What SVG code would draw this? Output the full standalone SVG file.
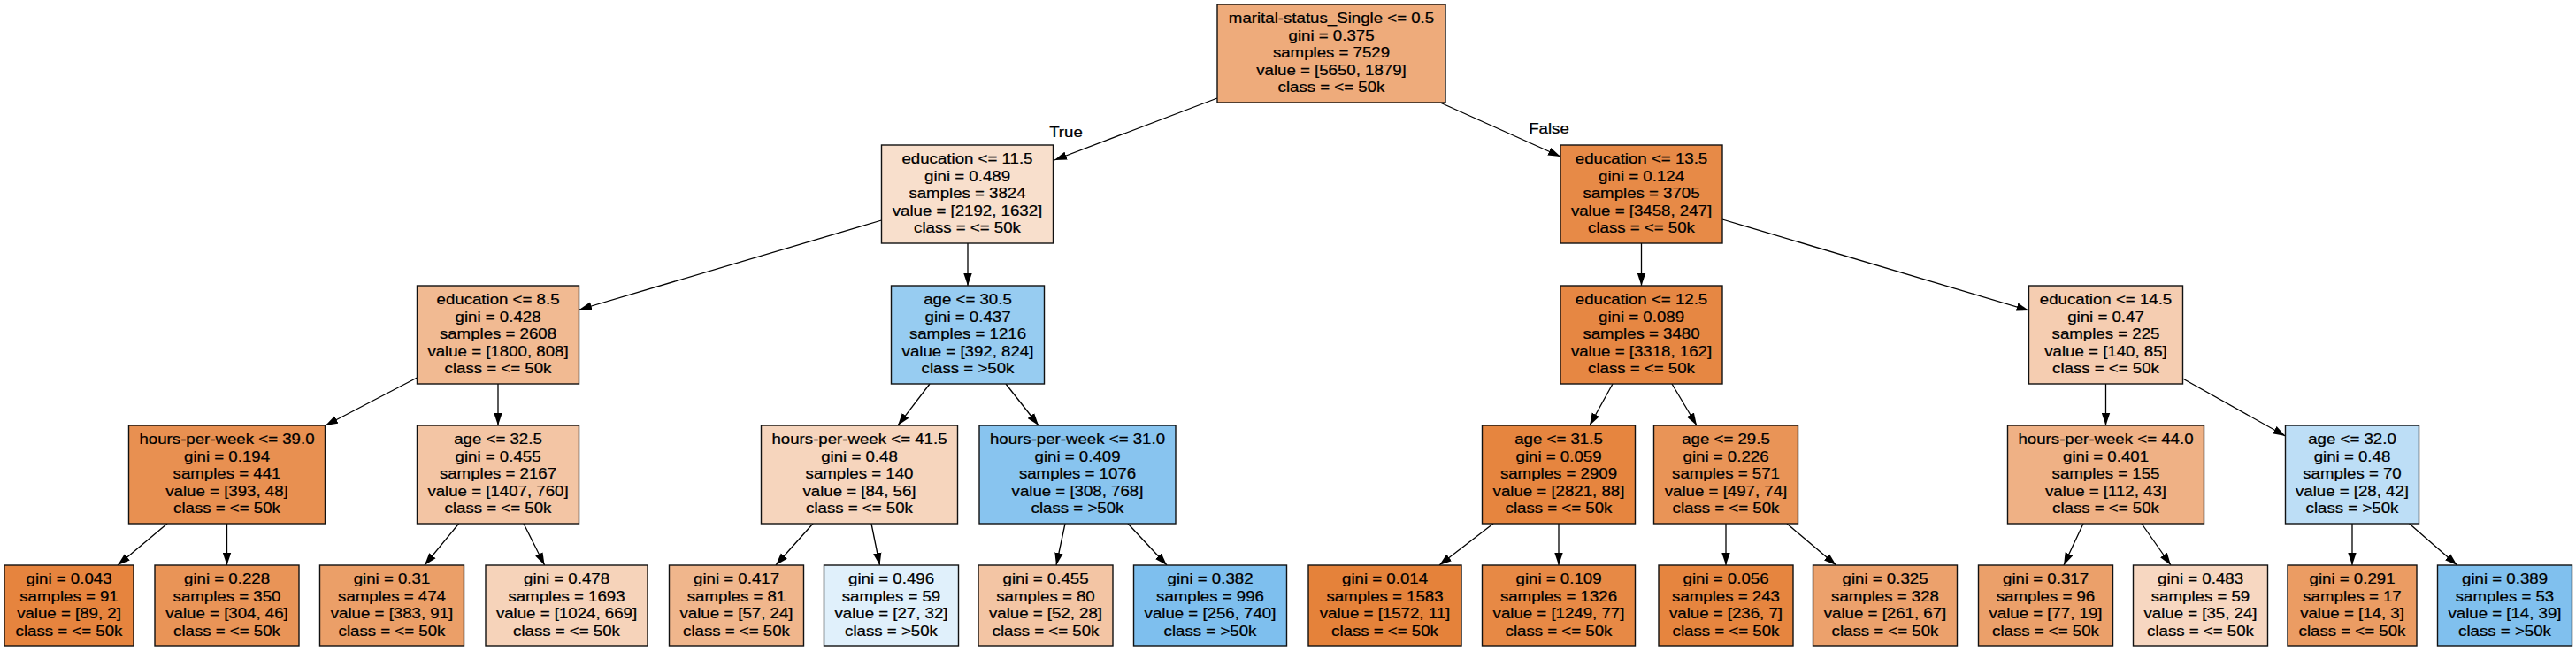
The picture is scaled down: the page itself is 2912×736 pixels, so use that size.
<svg xmlns="http://www.w3.org/2000/svg" width="2912" height="736" viewBox="0 0 2912 736">
<style>
.node rect{stroke:#111;stroke-width:1.4}
.t text{font-family:"Liberation Sans",Arial,Helvetica,sans-serif;font-size:17px;text-anchor:middle;fill:#000;stroke:#000;stroke-width:0.25}
.edges line{stroke:#000;stroke-width:1.3;marker-end:url(#ah)}
.lbl text{font-family:"Liberation Sans",Arial,Helvetica,sans-serif;font-size:17px;text-anchor:middle;fill:#000;stroke:#000;stroke-width:0.25}
</style>
<defs>
<marker id="ah" viewBox="0 0 14 10" refX="14" refY="5" markerWidth="14" markerHeight="10" markerUnits="userSpaceOnUse" orient="auto"><path d="M0,0.3 L14,5 L0,9.7 z" fill="#000"/></marker>
</defs>
<rect x="0" y="0" width="2912" height="736" fill="#fff"/>
<g id="edges" class="edges">
<line x1="1376" y1="111" x2="1192" y2="181"/>
<line x1="1628" y1="116" x2="1764" y2="177"/>
<line x1="996.5" y1="249" x2="655" y2="350"/>
<line x1="1094" y1="275" x2="1094" y2="323"/>
<line x1="1855.5" y1="275" x2="1855.5" y2="323"/>
<line x1="1947" y1="248" x2="2293.5" y2="351"/>
<line x1="471.5" y1="427" x2="368" y2="481"/>
<line x1="563" y1="434" x2="563" y2="481"/>
<line x1="1051" y1="434" x2="1015" y2="481"/>
<line x1="1137" y1="434" x2="1174" y2="481"/>
<line x1="1823" y1="434" x2="1797" y2="481"/>
<line x1="1890" y1="434" x2="1918" y2="481"/>
<line x1="2380.5" y1="434" x2="2380.5" y2="481"/>
<line x1="2467.5" y1="428" x2="2583.5" y2="493"/>
<line x1="189" y1="592" x2="133" y2="639"/>
<line x1="256.5" y1="592" x2="256.5" y2="639"/>
<line x1="518.6" y1="592" x2="480" y2="639"/>
<line x1="592" y1="592" x2="615.6" y2="639"/>
<line x1="919" y1="592" x2="877" y2="639"/>
<line x1="985" y1="592" x2="994.5" y2="639"/>
<line x1="1204" y1="592" x2="1194" y2="639"/>
<line x1="1275" y1="592" x2="1319" y2="639"/>
<line x1="1688" y1="592" x2="1627" y2="639"/>
<line x1="1762" y1="592" x2="1762" y2="639"/>
<line x1="1951" y1="592" x2="1951" y2="639"/>
<line x1="2020" y1="592" x2="2075.6" y2="639"/>
<line x1="2355" y1="592" x2="2333" y2="639"/>
<line x1="2421" y1="592" x2="2454" y2="639"/>
<line x1="2659" y1="592" x2="2659" y2="639"/>
<line x1="2723.6" y1="592" x2="2777.6" y2="639"/>
</g>
<g id="edge-labels" class="lbl">
<g transform="translate(1205 0) scale(1.098 1)"><text x="0" y="155">True</text></g>
<g transform="translate(1751 0) scale(1.098 1)"><text x="0" y="151.5">False</text></g>
</g>

<g id="n0" class="node"><rect x="1376" y="5" width="258" height="111" fill="#eeab7b"/><g class="t" transform="translate(1505 0) scale(1.098 1)"><text x="0" y="26.5">marital-status_Single &lt;= 0.5</text><text x="0" y="46">gini = 0.375</text><text x="0" y="65.5">samples = 7529</text><text x="0" y="85">value = [5650, 1879]</text><text x="0" y="104.5">class = &lt;= 50k</text></g></g>

<g id="n1" class="node"><rect x="996.5" y="164" width="194" height="111" fill="#f8dfcc"/><g class="t" transform="translate(1093.5 0) scale(1.098 1)"><text x="0" y="185.5">education &lt;= 11.5</text><text x="0" y="205">gini = 0.489</text><text x="0" y="224.5">samples = 3824</text><text x="0" y="244">value = [2192, 1632]</text><text x="0" y="263.5">class = &lt;= 50k</text></g></g>

<g id="n2" class="node"><rect x="471.5" y="323" width="183" height="111" fill="#f1ba92"/><g class="t" transform="translate(563 0) scale(1.098 1)"><text x="0" y="344.5">education &lt;= 8.5</text><text x="0" y="364">gini = 0.428</text><text x="0" y="383.5">samples = 2608</text><text x="0" y="403">value = [1800, 808]</text><text x="0" y="422.5">class = &lt;= 50k</text></g></g>

<g id="n3" class="node"><rect x="145.5" y="481" width="222" height="111" fill="#e89051"/><g class="t" transform="translate(256.5 0) scale(1.098 1)"><text x="0" y="502.5">hours-per-week &lt;= 39.0</text><text x="0" y="522">gini = 0.194</text><text x="0" y="541.5">samples = 441</text><text x="0" y="561">value = [393, 48]</text><text x="0" y="580.5">class = &lt;= 50k</text></g></g>

<g id="n4" class="node"><rect x="5" y="639" width="146" height="91" fill="#e6843e"/><g class="t" transform="translate(78 0) scale(1.098 1)"><text x="0" y="660.5">gini = 0.043</text><text x="0" y="680">samples = 91</text><text x="0" y="699.5">value = [89, 2]</text><text x="0" y="719">class = &lt;= 50k</text></g></g>

<g id="n5" class="node"><rect x="175" y="639" width="163" height="91" fill="#e99457"/><g class="t" transform="translate(256.5 0) scale(1.098 1)"><text x="0" y="660.5">gini = 0.228</text><text x="0" y="680">samples = 350</text><text x="0" y="699.5">value = [304, 46]</text><text x="0" y="719">class = &lt;= 50k</text></g></g>

<g id="n6" class="node"><rect x="471.5" y="481" width="183" height="111" fill="#f3c5a4"/><g class="t" transform="translate(563 0) scale(1.098 1)"><text x="0" y="502.5">age &lt;= 32.5</text><text x="0" y="522">gini = 0.455</text><text x="0" y="541.5">samples = 2167</text><text x="0" y="561">value = [1407, 760]</text><text x="0" y="580.5">class = &lt;= 50k</text></g></g>

<g id="n7" class="node"><rect x="361.5" y="639" width="163" height="91" fill="#eb9f68"/><g class="t" transform="translate(443 0) scale(1.098 1)"><text x="0" y="660.5">gini = 0.31</text><text x="0" y="680">samples = 474</text><text x="0" y="699.5">value = [383, 91]</text><text x="0" y="719">class = &lt;= 50k</text></g></g>

<g id="n8" class="node"><rect x="549" y="639" width="183" height="91" fill="#f6d3ba"/><g class="t" transform="translate(640.5 0) scale(1.098 1)"><text x="0" y="660.5">gini = 0.478</text><text x="0" y="680">samples = 1693</text><text x="0" y="699.5">value = [1024, 669]</text><text x="0" y="719">class = &lt;= 50k</text></g></g>

<g id="n9" class="node"><rect x="1007.5" y="323" width="173" height="111" fill="#97ccf1"/><g class="t" transform="translate(1094 0) scale(1.098 1)"><text x="0" y="344.5">age &lt;= 30.5</text><text x="0" y="364">gini = 0.437</text><text x="0" y="383.5">samples = 1216</text><text x="0" y="403">value = [392, 824]</text><text x="0" y="422.5">class = &gt;50k</text></g></g>

<g id="n10" class="node"><rect x="860.5" y="481" width="222" height="111" fill="#f6d5bd"/><g class="t" transform="translate(971.5 0) scale(1.098 1)"><text x="0" y="502.5">hours-per-week &lt;= 41.5</text><text x="0" y="522">gini = 0.48</text><text x="0" y="541.5">samples = 140</text><text x="0" y="561">value = [84, 56]</text><text x="0" y="580.5">class = &lt;= 50k</text></g></g>

<g id="n11" class="node"><rect x="756.5" y="639" width="152" height="91" fill="#f0b68c"/><g class="t" transform="translate(832.5 0) scale(1.098 1)"><text x="0" y="660.5">gini = 0.417</text><text x="0" y="680">samples = 81</text><text x="0" y="699.5">value = [57, 24]</text><text x="0" y="719">class = &lt;= 50k</text></g></g>

<g id="n12" class="node"><rect x="931.5" y="639" width="152" height="91" fill="#e0f0fb"/><g class="t" transform="translate(1007.5 0) scale(1.098 1)"><text x="0" y="660.5">gini = 0.496</text><text x="0" y="680">samples = 59</text><text x="0" y="699.5">value = [27, 32]</text><text x="0" y="719">class = &gt;50k</text></g></g>

<g id="n13" class="node"><rect x="1107" y="481" width="222" height="111" fill="#88c4ef"/><g class="t" transform="translate(1218 0) scale(1.098 1)"><text x="0" y="502.5">hours-per-week &lt;= 31.0</text><text x="0" y="522">gini = 0.409</text><text x="0" y="541.5">samples = 1076</text><text x="0" y="561">value = [308, 768]</text><text x="0" y="580.5">class = &gt;50k</text></g></g>

<g id="n14" class="node"><rect x="1106" y="639" width="152" height="91" fill="#f3c5a4"/><g class="t" transform="translate(1182 0) scale(1.098 1)"><text x="0" y="660.5">gini = 0.455</text><text x="0" y="680">samples = 80</text><text x="0" y="699.5">value = [52, 28]</text><text x="0" y="719">class = &lt;= 50k</text></g></g>

<g id="n15" class="node"><rect x="1281.5" y="639" width="173" height="91" fill="#7ebfee"/><g class="t" transform="translate(1368 0) scale(1.098 1)"><text x="0" y="660.5">gini = 0.382</text><text x="0" y="680">samples = 996</text><text x="0" y="699.5">value = [256, 740]</text><text x="0" y="719">class = &gt;50k</text></g></g>

<g id="n16" class="node"><rect x="1764" y="164" width="183" height="111" fill="#e78a47"/><g class="t" transform="translate(1855.5 0) scale(1.098 1)"><text x="0" y="185.5">education &lt;= 13.5</text><text x="0" y="205">gini = 0.124</text><text x="0" y="224.5">samples = 3705</text><text x="0" y="244">value = [3458, 247]</text><text x="0" y="263.5">class = &lt;= 50k</text></g></g>

<g id="n17" class="node"><rect x="1764" y="323" width="183" height="111" fill="#e68743"/><g class="t" transform="translate(1855.5 0) scale(1.098 1)"><text x="0" y="344.5">education &lt;= 12.5</text><text x="0" y="364">gini = 0.089</text><text x="0" y="383.5">samples = 3480</text><text x="0" y="403">value = [3318, 162]</text><text x="0" y="422.5">class = &lt;= 50k</text></g></g>

<g id="n18" class="node"><rect x="1675.5" y="481" width="173" height="111" fill="#e6853f"/><g class="t" transform="translate(1762 0) scale(1.098 1)"><text x="0" y="502.5">age &lt;= 31.5</text><text x="0" y="522">gini = 0.059</text><text x="0" y="541.5">samples = 2909</text><text x="0" y="561">value = [2821, 88]</text><text x="0" y="580.5">class = &lt;= 50k</text></g></g>

<g id="n19" class="node"><rect x="1479" y="639" width="173" height="91" fill="#e5823a"/><g class="t" transform="translate(1565.5 0) scale(1.098 1)"><text x="0" y="660.5">gini = 0.014</text><text x="0" y="680">samples = 1583</text><text x="0" y="699.5">value = [1572, 11]</text><text x="0" y="719">class = &lt;= 50k</text></g></g>

<g id="n20" class="node"><rect x="1675.5" y="639" width="173" height="91" fill="#e78945"/><g class="t" transform="translate(1762 0) scale(1.098 1)"><text x="0" y="660.5">gini = 0.109</text><text x="0" y="680">samples = 1326</text><text x="0" y="699.5">value = [1249, 77]</text><text x="0" y="719">class = &lt;= 50k</text></g></g>

<g id="n21" class="node"><rect x="1869.5" y="481" width="163" height="111" fill="#e99457"/><g class="t" transform="translate(1951 0) scale(1.098 1)"><text x="0" y="502.5">age &lt;= 29.5</text><text x="0" y="522">gini = 0.226</text><text x="0" y="541.5">samples = 571</text><text x="0" y="561">value = [497, 74]</text><text x="0" y="580.5">class = &lt;= 50k</text></g></g>

<g id="n22" class="node"><rect x="1875" y="639" width="152" height="91" fill="#e6853f"/><g class="t" transform="translate(1951 0) scale(1.098 1)"><text x="0" y="660.5">gini = 0.056</text><text x="0" y="680">samples = 243</text><text x="0" y="699.5">value = [236, 7]</text><text x="0" y="719">class = &lt;= 50k</text></g></g>

<g id="n23" class="node"><rect x="2049.5" y="639" width="163" height="91" fill="#eca16c"/><g class="t" transform="translate(2131 0) scale(1.098 1)"><text x="0" y="660.5">gini = 0.325</text><text x="0" y="680">samples = 328</text><text x="0" y="699.5">value = [261, 67]</text><text x="0" y="719">class = &lt;= 50k</text></g></g>

<g id="n24" class="node"><rect x="2293.5" y="323" width="174" height="111" fill="#f5cdb1"/><g class="t" transform="translate(2380.5 0) scale(1.098 1)"><text x="0" y="344.5">education &lt;= 14.5</text><text x="0" y="364">gini = 0.47</text><text x="0" y="383.5">samples = 225</text><text x="0" y="403">value = [140, 85]</text><text x="0" y="422.5">class = &lt;= 50k</text></g></g>

<g id="n25" class="node"><rect x="2269.5" y="481" width="222" height="111" fill="#efb185"/><g class="t" transform="translate(2380.5 0) scale(1.098 1)"><text x="0" y="502.5">hours-per-week &lt;= 44.0</text><text x="0" y="522">gini = 0.401</text><text x="0" y="541.5">samples = 155</text><text x="0" y="561">value = [112, 43]</text><text x="0" y="580.5">class = &lt;= 50k</text></g></g>

<g id="n26" class="node"><rect x="2236.5" y="639" width="152" height="91" fill="#eba06a"/><g class="t" transform="translate(2312.5 0) scale(1.098 1)"><text x="0" y="660.5">gini = 0.317</text><text x="0" y="680">samples = 96</text><text x="0" y="699.5">value = [77, 19]</text><text x="0" y="719">class = &lt;= 50k</text></g></g>

<g id="n27" class="node"><rect x="2411.5" y="639" width="152" height="91" fill="#f7d7c1"/><g class="t" transform="translate(2487.5 0) scale(1.098 1)"><text x="0" y="660.5">gini = 0.483</text><text x="0" y="680">samples = 59</text><text x="0" y="699.5">value = [35, 24]</text><text x="0" y="719">class = &lt;= 50k</text></g></g>

<g id="n28" class="node"><rect x="2583.5" y="481" width="151" height="111" fill="#bddef6"/><g class="t" transform="translate(2659 0) scale(1.098 1)"><text x="0" y="502.5">age &lt;= 32.0</text><text x="0" y="522">gini = 0.48</text><text x="0" y="541.5">samples = 70</text><text x="0" y="561">value = [28, 42]</text><text x="0" y="580.5">class = &gt;50k</text></g></g>

<g id="n29" class="node"><rect x="2586" y="639" width="146" height="91" fill="#eb9c63"/><g class="t" transform="translate(2659 0) scale(1.098 1)"><text x="0" y="660.5">gini = 0.291</text><text x="0" y="680">samples = 17</text><text x="0" y="699.5">value = [14, 3]</text><text x="0" y="719">class = &lt;= 50k</text></g></g>

<g id="n30" class="node"><rect x="2755.5" y="639" width="152" height="91" fill="#80c0ee"/><g class="t" transform="translate(2831.5 0) scale(1.098 1)"><text x="0" y="660.5">gini = 0.389</text><text x="0" y="680">samples = 53</text><text x="0" y="699.5">value = [14, 39]</text><text x="0" y="719">class = &gt;50k</text></g></g>
</svg>
